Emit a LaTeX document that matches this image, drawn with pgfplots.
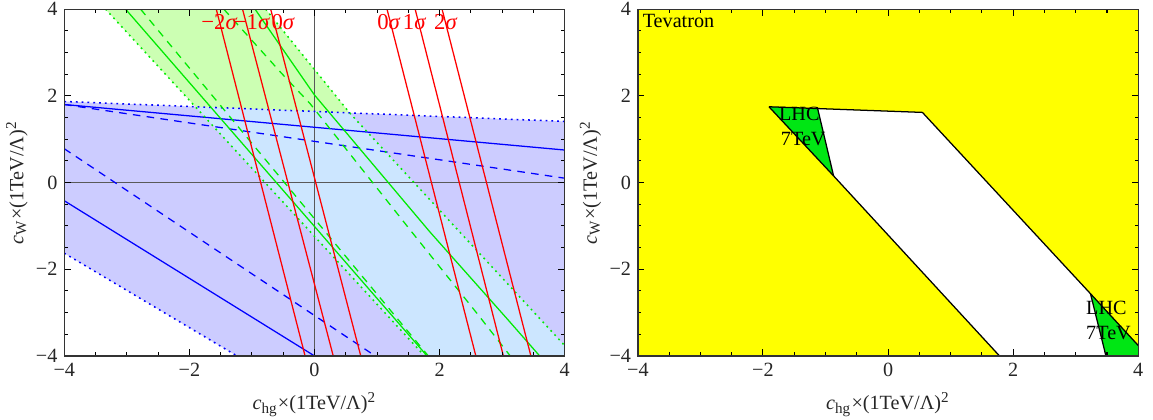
\documentclass[border=0pt]{standalone}
\usepackage{fontspec}
\setmainfont{Liberation Serif}
\usepackage{pgfplots}
\pgfplotsset{compat=1.18}
\definecolor{bandblue}{RGB}{204,204,255}
\definecolor{bandlight}{RGB}{204,230,255}
\definecolor{bandgreen}{RGB}{204,255,179}
\definecolor{lgreen}{RGB}{0,235,0}
\definecolor{lhcgreen}{RGB}{0,230,20}
\definecolor{tev}{RGB}{255,255,0}

\pgfplotsset{
  cplane/.style={
    width=6.97cm, height=4.83cm, scale only axis,
    xmin=-4, xmax=4, ymin=-4, ymax=4,
    xtick={-4,-2,0,2,4}, ytick={-4,-2,0,2,4},
    xticklabels={−4,−2,0,2,4}, yticklabels={−4,−2,0,2,4},
    minor x tick num=3, minor y tick num=3,
    tick align=inside, major tick length=0.09cm, minor tick length=0.05cm,
    tick style={black, line width=0.4pt},
    axis line style={black!80, line width=0.5pt},
    tick label style={font=\footnotesize, black!85, inner sep=1pt},
    x tick label style={yshift=-1.5pt},
    y tick label style={xshift=-1.5pt},
    label style={font=\footnotesize, black!85, inner sep=1pt},
    xlabel={\textit{c}\textsubscript{hg}×(1TeV/Λ)\textsuperscript{2}},
    ylabel={\textit{c}\textsubscript{W}×(1TeV/Λ)\textsuperscript{2}},
    xlabel style={yshift=-0.15cm},
    ylabel style={yshift=0.04cm},
    axis on top,
  },
  dsh/.style={dash pattern=on 3pt off 2.5pt},
  dtt/.style={dash pattern=on 0.7pt off 1.6pt},
}

\begin{document}
\begin{tikzpicture}
% left panel: bands and contour lines
\begin{axis}[cplane]
  \addplot[fill=bandblue, draw=none] coordinates {(-4,1.87) (4,1.41) (4,-4) (-1.24,-4) (-4,-1.63)};
  \addplot[fill=bandgreen, draw=none] coordinates {(-3.34,4) (-0.78,4) (0.56,1.61) (-1.905,1.75)};
  \addplot[fill=bandlight, draw=none] coordinates {(-1.905,1.75) (0.56,1.61) (4,-3.76) (4,-4) (1.76,-4)};

  \draw[black!65, line width=0.6pt] (axis cs:0,-4) -- (axis cs:0,4);
  \draw[black!65, line width=0.6pt] (axis cs:-4,0) -- (axis cs:4,0);

  % blue
  \addplot[blue, line width=0.5pt] coordinates {(-4,1.80) (4,0.75)};
  \addplot[blue, line width=0.5pt] coordinates {(-4,-0.42) (0.0,-4)};
  \addplot[blue, line width=0.5pt, dsh] coordinates {(-4,1.80) (4,0.10)};
  \addplot[blue, line width=0.5pt, dsh] coordinates {(-4,0.78) (0.97,-4)};
  \addplot[blue, line width=0.6pt, dtt] coordinates {(-4,1.87) (4,1.41)};
  \addplot[blue, line width=0.6pt, dtt] coordinates {(-4,-1.63) (-1.24,-4)};

  % green
  \addplot[lgreen, line width=0.6pt, dtt] coordinates {(-3.34,4) (1.76,-4)};
  \addplot[lgreen, line width=0.5pt] coordinates {(-3.02,4) (1.80,-4)};
  \addplot[lgreen, line width=0.5pt, dsh] coordinates {(-2.78,4) (1.82,-4)};
  \addplot[lgreen, line width=0.5pt, dsh] coordinates {(-1.45,4) (-0.52,2.51) (-0.07,1.82) (1.55,-1.13) (2.61,-3.04) (3.13,-4)};
  \addplot[lgreen, line width=0.5pt] coordinates {(-0.95,4) (0,2.02) (1.84,-1.13) (3.09,-3.16) (3.6,-4)};
  \addplot[lgreen, line width=0.6pt, dtt] coordinates {(-0.78,4) (0.56,1.61) (4,-3.76)};

  % red
  \addplot[red, line width=0.5pt] coordinates {(-1.57,4) (-0.15,-4)};
  \addplot[red, line width=0.5pt] coordinates {(-1.15,4) (0.30,-4)};
  \addplot[red, line width=0.5pt] coordinates {(-0.70,4) (0.74,-4)};
  \addplot[red, line width=0.5pt] coordinates {(1.16,4) (2.58,-4)};
  \addplot[red, line width=0.5pt] coordinates {(1.61,4) (3.02,-4)};
  \addplot[red, line width=0.5pt] coordinates {(2.04,4) (3.46,-4)};

  \begin{scope}[every node/.style={red, font=\small, inner sep=0pt}]
    \node at (axis cs:-1.52,3.70) {−2\textit{σ}};
    \node at (axis cs:-1.00,3.70) {−1\textit{σ}};
    \node at (axis cs:-0.50,3.70) {0\textit{σ}};
    \node at (axis cs:1.19,3.70) {0\textit{σ}};
    \node at (axis cs:1.60,3.70) {1\textit{σ}};
    \node at (axis cs:2.10,3.70) {2\textit{σ}};
  \end{scope}
\end{axis}

% right panel: allowed regions
\begin{axis}[cplane, xshift=7.99cm]
  \addplot[fill=tev, draw=none] coordinates {(-4,-4) (4,-4) (4,4) (-4,4)};
  \addplot[fill=lhcgreen, draw=none] coordinates {(-1.904,1.748) (-1.124,1.695) (-0.871,0.153)};
  \addplot[fill=lhcgreen, draw=none] coordinates {(3.236,-2.565) (4,-3.76) (4,-4) (3.483,-4)};
  \addplot[fill=white, draw=none] coordinates {(-1.124,1.695) (0.549,1.618) (3.236,-2.565) (3.483,-4) (1.781,-4) (-0.871,0.153)};

  \addplot[black, line width=0.5pt] coordinates {(-1.904,1.748) (0.549,1.618) (3.236,-2.565) (4,-3.76)};
  \addplot[black, line width=0.5pt] coordinates {(-1.904,1.748) (-0.871,0.153) (1.781,-4)};
  \addplot[black, line width=0.5pt] coordinates {(-1.124,1.695) (-0.871,0.153)};
  \addplot[black, line width=0.5pt] coordinates {(3.236,-2.565) (3.483,-4)};

  \begin{scope}[every node/.style={font=\footnotesize, inner sep=0pt, anchor=west}]
    \node[anchor=north west] at (axis cs:-3.93,3.9) {Tevatron};
    \node at (axis cs:-1.75,1.58) {LHC};
    \node at (axis cs:-1.72,1.0) {7TeV};
    \node at (axis cs:3.16,-2.9) {LHC};
    \node at (axis cs:3.16,-3.47) {7TeV};
  \end{scope}
\end{axis}
\path ([xshift=-0.05cm]current bounding box.west) ([xshift=0.1cm]current bounding box.east);
\end{tikzpicture}
\end{document}
